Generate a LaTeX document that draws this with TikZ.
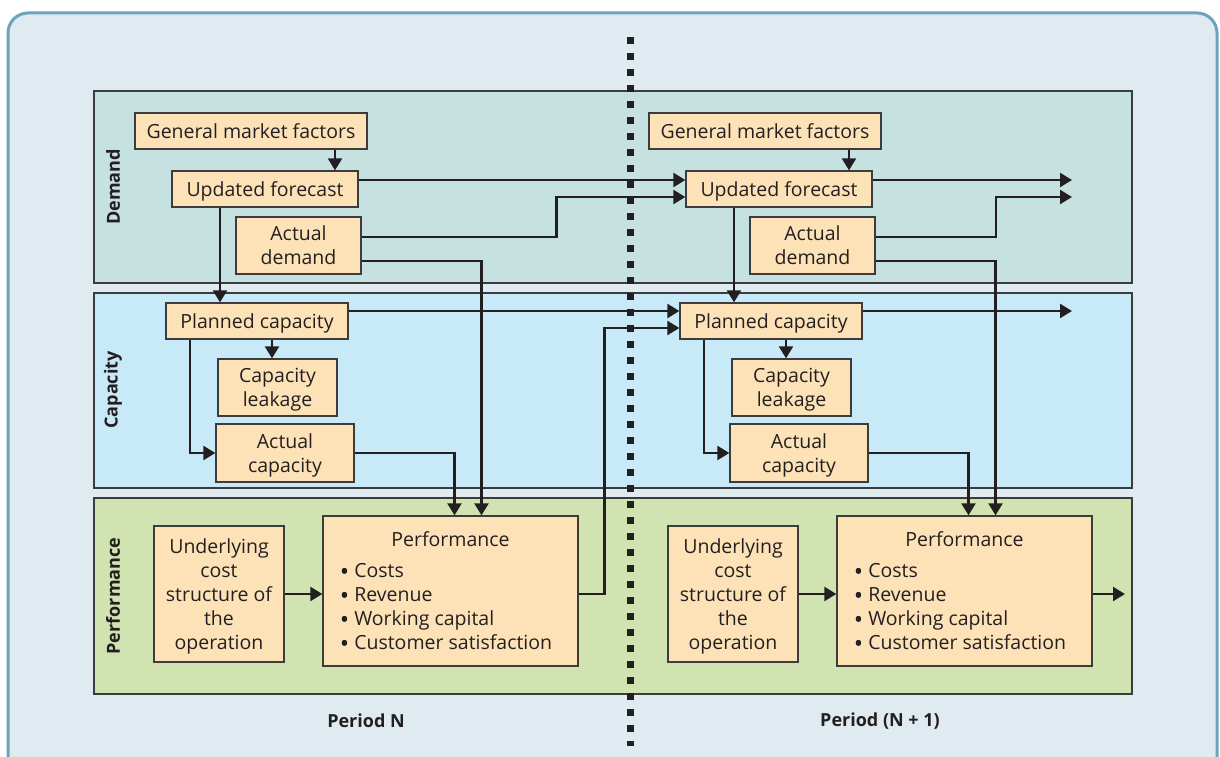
\documentclass[tikz,border=0pt]{standalone}
\usepackage{fontspec}
\setmainfont{Open Sans}
\usetikzlibrary{arrows.meta}
\definecolor{outerbg}{RGB}{224,235,241}
\definecolor{outerln}{RGB}{110,163,190}
\definecolor{demandbg}{RGB}{197,226,225}
\definecolor{capbg}{RGB}{199,233,248}
\definecolor{perfbg}{RGB}{208,227,176}
\definecolor{boxbg}{RGB}{253,226,184}
\definecolor{boxln}{RGB}{60,60,60}
\definecolor{ink}{RGB}{35,31,32}
\newcommand\bul{\raisebox{-2.5pt}{\fontsize{25}{24}\selectfont\textbullet}\ }
\tikzset{
  box/.style={draw=boxln, line width=1.3pt, fill=boxbg, inner sep=0pt, align=center,
    font=\fontsize{19.5}{24}\selectfont, text=ink},
  onebox/.style={box, text height=19pt, text depth=4pt},
  multibox/.style={box, text depth=0pt},
  band/.style={draw=boxln, line width=1.3pt},
  bandlabel/.style={rotate=90, font=\fontsize{18}{22}\selectfont\bfseries, text=ink},
  arr/.style={draw=ink, line width=2.3pt, -{Triangle[length=12pt,width=14pt]}},
  period/.style={font=\fontsize{18}{22}\selectfont\bfseries, text=ink}
}
\begin{document}
\begin{tikzpicture}[x=1pt,y=-1pt]
\useasboundingbox (0,0) rectangle (1220,757);
\clip (0,0) rectangle (1220,757);
\fill[white] (0,0) rectangle (1220,757);
\draw[fill=outerbg, draw=outerln, line width=3pt, rounded corners=20pt] (8,13) rectangle (1217,800);
% bands
\draw[band, fill=demandbg] (94,91) rectangle (1132,283);
\draw[band, fill=capbg] (94,293) rectangle (1132,488);
\draw[band, fill=perfbg] (94,498) rectangle (1132,694);
\node[bandlabel] (lblD) at (113,187) {Demand};
\node[bandlabel] (lblC) at (113,390) {Capacity};
\node[bandlabel] (lblP) at (113,596) {Performance};
% period divider
\draw[ink, line width=7pt, dash pattern=on 7pt off 9pt] (630.5,37) -- (630.5,746);
% boxes for both periods
\foreach \s/\dx in {A/0,B/514}{
  \node[onebox, minimum width=232pt, minimum height=36pt] (gmf\s) at ({251+\dx},131) {General market factors};
  \node[onebox, minimum width=186pt, minimum height=36pt] (uf\s) at ({265+\dx},189) {Updated forecast};
  \node[multibox, minimum width=125pt, minimum height=57pt] (ad\s) at ({298.5+\dx},245.5) {Actual\\demand};
  \node[onebox, minimum width=182pt, minimum height=36pt] (pc\s) at ({257+\dx},321) {Planned capacity};
  \node[multibox, minimum width=119pt, minimum height=57pt] (cl\s) at ({277.5+\dx},387.5) {Capacity\\leakage};
  \node[multibox, minimum width=138pt, minimum height=58pt] (ac\s) at ({285+\dx},453) {Actual\\capacity};
  \node[multibox, minimum width=130pt, minimum height=136pt] (uc\s) at ({219+\dx},594) {Underlying\\cost\\structure of\\the\\operation};
  \node[box, text depth=72pt, minimum width=255pt, minimum height=150pt] (pf\s) at ({450.5+\dx},591) {Performance\\[7pt]\begin{tabular}[t]{@{}l@{}}\bul Costs\\\bul Revenue\\\bul Working capital\\\bul Customer satisfaction\end{tabular}\hspace*{9pt}};
}
% connectors inside each period
\foreach \s in {A,B}{
  \draw[arr] ([xshift=84pt]gmf\s.south) -- ([xshift=70pt]uf\s.north);
  \draw[arr] ([xshift=-45pt]uf\s.south) -- ([xshift=-37pt]pc\s.north);
  \draw[arr] ([xshift=15pt]pc\s.south) -- ([xshift=-5.5pt]cl\s.north);
  \draw[arr] ([xshift=-67pt]pc\s.south) |- (ac\s.west);
  \draw[arr] (ac\s.east) -| ([xshift=4pt]pf\s.north);
  \draw[arr] ([yshift=-15.5pt]ad\s.east) -| ([xshift=31pt]pf\s.north);
  \draw[arr] (uc\s.east) -- (pf\s.west |- uc\s.east);
}
% free ends
\coordinate (outUF) at (1072,180);
\coordinate (outAD) at (1072,197);
\coordinate (outPC) at (1072,311);
\coordinate (outPF) at (1125,594);
% period N to period N+1
\draw[arr] ([yshift=9pt]ufA.east) -- ([yshift=9pt]ufB.west);
\draw[arr] ([yshift=8.5pt]adA.east) -| ([xshift=-129pt,yshift=-8pt]ufB.west) -- ([yshift=-8pt]ufB.west);
\draw[arr] ([yshift=10pt]pcA.east) -- ([yshift=10pt]pcB.west);
\draw[arr] (pfA.east |- ucA.east) -| ([xshift=-75pt,yshift=-7pt]pcB.west) -- ([yshift=-7pt]pcB.west);
% period N+1 outgoing
\draw[arr] ([yshift=9pt]ufB.east) -- (outUF);
\draw[arr] ([yshift=8.5pt]adB.east) -| ([xshift=-76pt]outAD) -- (outAD);
\draw[arr] ([yshift=10pt]pcB.east) -- (outPC);
\draw[arr] (pfB.east |- ucB.east) -- (outPF);
% period labels
\node[period] (perN) at (366,721) {Period N};
\node[period] (perN1) at (880,721) {Period (N + 1)};
\end{tikzpicture}
\end{document}
